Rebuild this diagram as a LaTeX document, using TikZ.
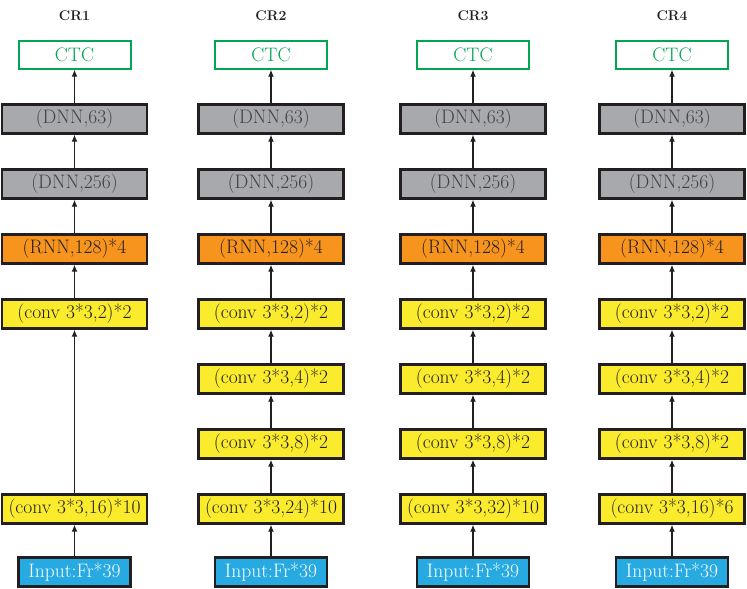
\documentclass[tikz,border=0pt]{standalone}
\usepackage{tikz}
\usetikzlibrary{arrows.meta, positioning}
\definecolor{boxline}{RGB}{35,31,32}
\definecolor{dnngray}{RGB}{167,169,172}
\definecolor{dnntext}{RGB}{65,64,66}
\definecolor{rnnorange}{RGB}{247,148,29}
\definecolor{convyellow}{RGB}{250,236,45}
\definecolor{inblue}{RGB}{39,170,225}
\definecolor{ctcgreen}{RGB}{0,166,81}
\tikzset{
  blk/.style={rectangle, draw=boxline, line width=2.5pt,
              minimum width=145pt, minimum height=29pt, inner sep=0pt,
              font=\fontsize{19.5}{21}\selectfont, text=boxline},
  dnn/.style={blk, fill=dnngray, text=dnntext},
  rnn/.style={blk, fill=rnnorange},
  conv/.style={blk, fill=convyellow},
  inp/.style={blk, fill=inblue, text=white, minimum width=112pt},
  ctc/.style={blk, draw=ctcgreen, line width=2pt, fill=white,
              text=ctcgreen, minimum width=112pt, minimum height=28pt},
  ttl/.style={font=\fontsize{14}{16}\selectfont\bfseries, text=boxline},
  arr/.style={-{Latex[length=7pt,width=6pt]}, line width=1.2pt, draw=boxline},
}

\begin{document}
\begin{tikzpicture}[node distance=33.5pt]
  \useasboundingbox (0,0) rectangle (747pt,589pt);

  % CR1
  \node[inp] (in1) at (74.5pt,17pt) {Input:Fr*39};
  \node[conv, above=31.5pt of in1] (cvd1) {(conv 3*3,16)*10};
  \node[conv, above=163.5pt of cvd1] (cva1) {(conv 3*3,2)*2};
  \node[rnn, above=of cva1] (rnn1) {(RNN,128)*4};
  \node[dnn, above=of rnn1] (dnnb1) {(DNN,256)};
  \node[dnn, above=of dnnb1] (dnna1) {(DNN,63)};
  \node[ctc, above=of dnna1] (ctc1) {CTC};
  \node[ttl, above=16pt of ctc1] (cr1) {CR1};
  \draw[arr] (in1) -- (cvd1);
  \draw[arr] (cvd1) -- (cva1);
  \draw[arr] (cva1) -- (rnn1);
  \draw[arr] (rnn1) -- (dnnb1);
  \draw[arr] (dnnb1) -- (dnna1);
  \draw[arr] (dnna1) -- (ctc1);

  % CR2
  \node[inp] (in2) at (271pt,17pt) {Input:Fr*39};
  \node[conv, above=31.5pt of in2] (cvd2) {(conv 3*3,24)*10};
  \node[conv, above=of cvd2] (cvc2) {(conv 3*3,8)*2};
  \node[conv, above=of cvc2] (cvb2) {(conv 3*3,4)*2};
  \node[conv, above=of cvb2] (cva2) {(conv 3*3,2)*2};
  \node[rnn, above=of cva2] (rnn2) {(RNN,128)*4};
  \node[dnn, above=of rnn2] (dnnb2) {(DNN,256)};
  \node[dnn, above=of dnnb2] (dnna2) {(DNN,63)};
  \node[ctc, above=of dnna2] (ctc2) {CTC};
  \node[ttl, above=16pt of ctc2] (cr2) {CR2};
  \draw[arr] (in2) -- (cvd2);
  \draw[arr] (cvd2) -- (cvc2);
  \draw[arr] (cvc2) -- (cvb2);
  \draw[arr] (cvb2) -- (cva2);
  \draw[arr] (cva2) -- (rnn2);
  \draw[arr] (rnn2) -- (dnnb2);
  \draw[arr] (dnnb2) -- (dnna2);
  \draw[arr] (dnna2) -- (ctc2);

  % CR3
  \node[inp] (in3) at (473pt,17pt) {Input:Fr*39};
  \node[conv, above=31.5pt of in3] (cvd3) {(conv 3*3,32)*10};
  \node[conv, above=of cvd3] (cvc3) {(conv 3*3,8)*2};
  \node[conv, above=of cvc3] (cvb3) {(conv 3*3,4)*2};
  \node[conv, above=of cvb3] (cva3) {(conv 3*3,2)*2};
  \node[rnn, above=of cva3] (rnn3) {(RNN,128)*4};
  \node[dnn, above=of rnn3] (dnnb3) {(DNN,256)};
  \node[dnn, above=of dnnb3] (dnna3) {(DNN,63)};
  \node[ctc, above=of dnna3] (ctc3) {CTC};
  \node[ttl, above=16pt of ctc3] (cr3) {CR3};
  \draw[arr] (in3) -- (cvd3);
  \draw[arr] (cvd3) -- (cvc3);
  \draw[arr] (cvc3) -- (cvb3);
  \draw[arr] (cvb3) -- (cva3);
  \draw[arr] (cva3) -- (rnn3);
  \draw[arr] (rnn3) -- (dnnb3);
  \draw[arr] (dnnb3) -- (dnna3);
  \draw[arr] (dnna3) -- (ctc3);

  % CR4
  \node[inp] (in4) at (672pt,17pt) {Input:Fr*39};
  \node[conv, above=31.5pt of in4] (cvd4) {(conv 3*3,16)*6};
  \node[conv, above=of cvd4] (cvc4) {(conv 3*3,8)*2};
  \node[conv, above=of cvc4] (cvb4) {(conv 3*3,4)*2};
  \node[conv, above=of cvb4] (cva4) {(conv 3*3,2)*2};
  \node[rnn, above=of cva4] (rnn4) {(RNN,128)*4};
  \node[dnn, above=of rnn4] (dnnb4) {(DNN,256)};
  \node[dnn, above=of dnnb4] (dnna4) {(DNN,63)};
  \node[ctc, above=of dnna4] (ctc4) {CTC};
  \node[ttl, above=16pt of ctc4] (cr4) {CR4};
  \draw[arr] (in4) -- (cvd4);
  \draw[arr] (cvd4) -- (cvc4);
  \draw[arr] (cvc4) -- (cvb4);
  \draw[arr] (cvb4) -- (cva4);
  \draw[arr] (cva4) -- (rnn4);
  \draw[arr] (rnn4) -- (dnnb4);
  \draw[arr] (dnnb4) -- (dnna4);
  \draw[arr] (dnna4) -- (ctc4);
\end{tikzpicture}
\end{document}
